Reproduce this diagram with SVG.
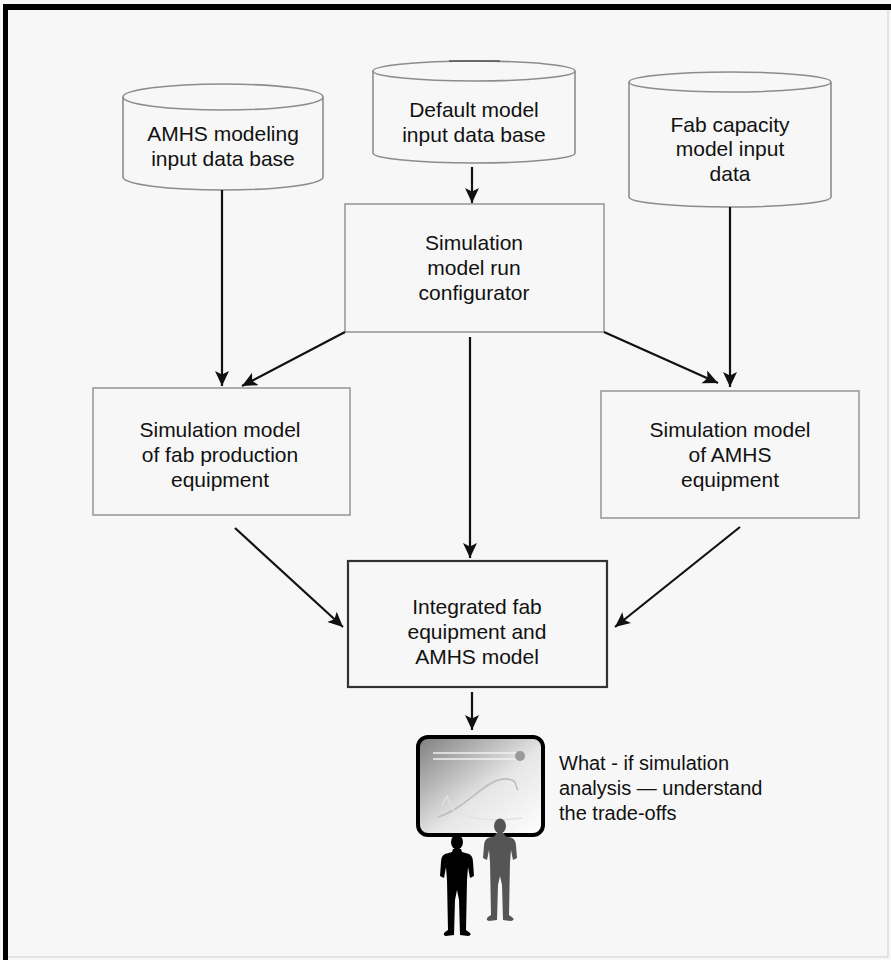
<svg xmlns="http://www.w3.org/2000/svg" width="891" height="960" viewBox="0 0 891 960">
  <defs>
    <style>
      .bg { fill: #f7f7f7; }
      .db { fill: #f7f7f7; stroke: #8c8c8c; stroke-width: 1.6; }
      .box { fill: #f7f7f7; stroke: #9a9a9a; stroke-width: 1.6; }
      .box-main { fill: #f7f7f7; stroke: #333; stroke-width: 2.2; }
      .lbl { font-family: "Liberation Sans", Arial, sans-serif; font-size: 21px; fill: #111; text-anchor: middle; }
      .note { font-family: "Liberation Sans", Arial, sans-serif; font-size: 20px; fill: #111; }
      .conn line { stroke: #111; stroke-width: 2.2; marker-end: url(#arrow); }
    </style>
    <marker id="arrow" markerUnits="userSpaceOnUse" markerWidth="16" markerHeight="16" refX="15" refY="7" orient="auto">
      <path d="M0,0 L15,7 L0,14 L3.5,7 Z" fill="#111"/>
    </marker>
    <linearGradient id="screen" x1="0" y1="0" x2="1" y2="1">
      <stop offset="0" stop-color="#7e7e7e"/>
      <stop offset="0.55" stop-color="#e6e6e6"/>
      <stop offset="1" stop-color="#ffffff"/>
    </linearGradient>
  </defs>

  <!-- page and frame -->
  <rect class="bg" x="0" y="0" width="891" height="960"/>
  <rect x="5" y="9" width="883" height="948" fill="none" stroke="#cfcfcf" stroke-width="1"/>
  <path d="M3,960 L3,4 L891,4 L891,10 L8,10 L8,960 Z" fill="#000"/>

  <!-- data stores -->
  <g id="amhs-input-db">
    <path class="db" d="M123,97 L123,177 A100,13 0 0 0 323,177 L323,97"/>
    <ellipse class="db" cx="223" cy="97" rx="100" ry="13"/>
    <text class="lbl" x="223" y="141">AMHS modeling</text>
    <text class="lbl" x="223" y="166">input data base</text>
  </g>

  <g id="default-input-db">
    <path class="db" d="M373,71 L373,153 A101,10 0 0 0 575,153 L575,71"/>
    <ellipse class="db" cx="474" cy="71" rx="101" ry="10"/>
    <line x1="449" y1="61" x2="500" y2="61" stroke="#555" stroke-width="1.6"/>
    <text class="lbl" x="474" y="117">Default model</text>
    <text class="lbl" x="474" y="142">input data base</text>
  </g>

  <g id="fab-capacity-db">
    <path class="db" d="M629,82 L629,197 A101,10 0 0 0 831,197 L831,82"/>
    <ellipse class="db" cx="730" cy="82" rx="101" ry="10"/>
    <text class="lbl" x="730" y="132">Fab capacity</text>
    <text class="lbl" x="730" y="156">model input</text>
    <text class="lbl" x="730" y="181">data</text>
  </g>

  <!-- process boxes -->
  <g id="run-configurator">
    <rect class="box" x="345" y="204" width="259" height="128"/>
    <text class="lbl" x="474" y="250">Simulation</text>
    <text class="lbl" x="474" y="275">model run</text>
    <text class="lbl" x="474" y="300">configurator</text>
  </g>

  <g id="fab-production-model">
    <rect class="box" x="93" y="388" width="257" height="127"/>
    <text class="lbl" x="220" y="437">Simulation model</text>
    <text class="lbl" x="220" y="462">of fab production</text>
    <text class="lbl" x="220" y="487">equipment</text>
  </g>

  <g id="amhs-equipment-model">
    <rect class="box" x="601" y="391" width="258" height="127"/>
    <text class="lbl" x="730" y="437">Simulation model</text>
    <text class="lbl" x="730" y="462">of AMHS</text>
    <text class="lbl" x="730" y="487">equipment</text>
  </g>

  <g id="integrated-model">
    <rect class="box-main" x="348" y="561" width="259" height="126"/>
    <text class="lbl" x="477" y="614">Integrated fab</text>
    <text class="lbl" x="477" y="639">equipment and</text>
    <text class="lbl" x="477" y="664">AMHS model</text>
  </g>

  <!-- analysis: screen with two viewers -->
  <g id="what-if-analysis">
    <rect x="418" y="737" width="125" height="98" rx="10" ry="10" fill="url(#screen)" stroke="#000" stroke-width="4"/>
    <line x1="433" y1="753" x2="517" y2="753" stroke="#f2f2f2" stroke-width="1.5"/>
    <line x1="433" y1="759" x2="517" y2="759" stroke="#f2f2f2" stroke-width="1.5"/>
    <circle cx="520" cy="756" r="5" fill="#9a9a9a"/>
    <path d="M438,817 C455,812 470,798 485,787 C495,780 505,776 514,781 C517,784 516,789 518,790" fill="none" stroke="#bdbdbd" stroke-width="1.6"/>
    <path d="M442,806 L447,796 L452,809 C470,820 490,822 522,818" fill="none" stroke="#e2e2e2" stroke-width="1.3"/>
    <!-- viewer in grey -->
    <ellipse cx="500" cy="826" rx="6" ry="7.5" fill="#555"/>
    <path fill="#555" d="M496,833 L504,833 L505,836 L512,838 Q516,840 516,846 L517,858 L513,860 L511,850 L510,862 L509,915 L513,918 Q515,920 511,921 L503,920 L502,885 L500,876 L498,885 L497,920 L489,921 Q485,920 488,917 L491,915 L490,862 L489,850 L487,860 L483,858 L484,846 Q484,840 488,838 L495,836 Z"/>
    <!-- viewer in black -->
    <ellipse cx="457" cy="842" rx="6" ry="7.5" fill="#000"/>
    <path fill="#000" d="M453,849 L461,849 L462,852 L469,854 Q473,856 473,862 L474,876 L470,878 L468,867 L467,880 L466,930 L470,933 Q472,935 468,936 L460,935 L459,900 L457,890 L455,900 L454,935 L446,936 Q442,935 445,932 L448,930 L447,880 L446,867 L444,878 L440,876 L441,862 Q441,856 445,854 L452,852 Z"/>
    <text class="note" x="559" y="770">What - if simulation</text>
    <text class="note" x="559" y="795">analysis — understand</text>
    <text class="note" x="559" y="820">the trade-offs</text>
  </g>

  <!-- connectors -->
  <g id="connectors" class="conn">
    <line x1="472" y1="167" x2="472" y2="203"/>
    <line x1="222" y1="190" x2="222" y2="386"/>
    <line x1="730" y1="207" x2="730" y2="387"/>
    <line x1="345" y1="332" x2="242" y2="386"/>
    <line x1="604" y1="332" x2="718" y2="383"/>
    <line x1="470" y1="337" x2="470" y2="558"/>
    <line x1="235" y1="528" x2="343" y2="627"/>
    <line x1="740" y1="527" x2="615" y2="627"/>
    <line x1="472" y1="692" x2="472" y2="730"/>
  </g>
</svg>
